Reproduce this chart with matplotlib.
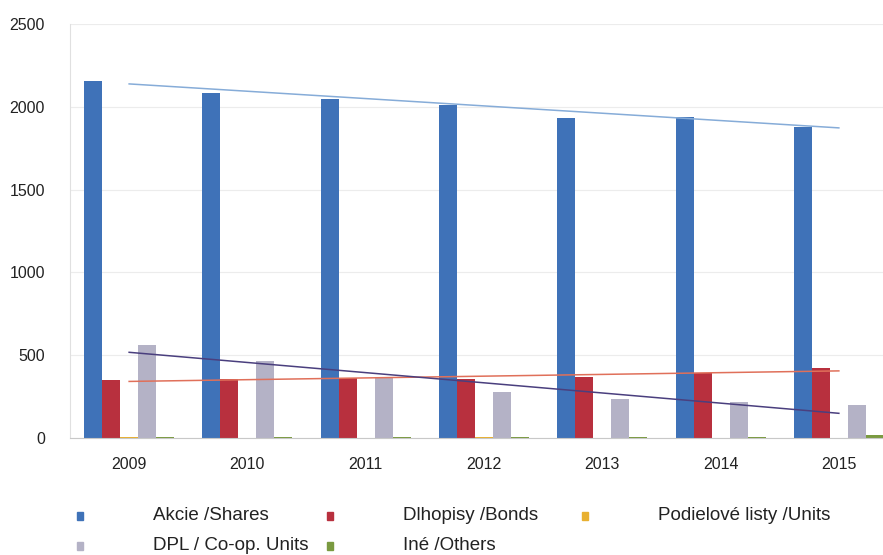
import numpy as np
import matplotlib
matplotlib.use("Agg")
import matplotlib.pyplot as plt
from matplotlib.patches import Rectangle

plt.rcParams["font.family"] = ["Liberation Sans", "DejaVu Sans"]

# ── DATA ─────────────────────────────────────────────────────────────────────
years = ["2009", "2010", "2011", "2012", "2013", "2014", "2015"]
shares = [2155, 2082, 2046, 2010, 1931, 1937, 1877]
bonds = [351, 357, 363, 357, 369, 393, 424]
units = [4, 3, 3, 4, 3, 3, 3]
coop_units = [563, 466, 370, 280, 236, 218, 200]
others = [6, 5, 5, 6, 7, 8, 18]

labels = ["Akcie /Shares", "Dlhopisy /Bonds", "Podielové listy /Units",
          "DPL / Co-op. Units", "Iné /Others"]
colors = ["#3f72b8", "#b8303e", "#e8b030", "#b4b2c6", "#7a9a40"]
trend_colors = {0: "#86acd8", 1: "#e0705a", 3: "#4a3f7e"}

series = [shares, bonds, units, coop_units, others]

fig = plt.figure(figsize=(8.83, 5.55), dpi=100)
W, H = 883, 555
ax = fig.add_axes([70 / W, (H - 438) / H, 828 / W, (438 - 24) / H])

x = np.arange(len(years))
bw = 0.152
for i, (vals, c) in enumerate(zip(series, colors)):
    ax.bar(x + (i - 2) * bw, vals, bw, color=c, edgecolor="none", zorder=2)

# linear trend lines like the spreadsheet ones
for i, c in trend_colors.items():
    k, b = np.polyfit(x, series[i], 1)
    ax.plot(x, k * x + b, color=c, lw=1.1, zorder=3)

ax.set_xlim(-0.5, len(years) - 0.5)
ax.set_ylim(0, 2500)
ax.set_yticks(range(0, 2501, 500))
ax.set_xticks(x)
ax.set_xticklabels(years)
ax.tick_params(axis="y", length=0, pad=18, labelsize=11.5, labelcolor="#222222")
ax.tick_params(axis="x", length=0, pad=14, labelsize=11.5, labelcolor="#222222")
ax.grid(axis="y", color="#ececec", lw=0.8, zorder=0)
for s in ["top", "right"]:
    ax.spines[s].set_visible(False)
ax.spines["left"].set_color("#e0e0e0")
ax.spines["bottom"].set_color("#c8c8c8")

# legend laid out like the original (row by row, three columns)
leg_pos = [(80, 516), (330, 516), (585, 516), (80, 546), (330, 546)]
for (px, py), lab, c in zip(leg_pos, labels, colors):
    fig.patches.append(Rectangle(((px - 3) / W, (H - py - 4) / H), 6 / W, 8 / H,
                                 transform=fig.transFigure, color=c))
    fig.text((px + 73) / W, (H - py) / H, lab, fontsize=13.5, color="#222222",
             va="center", ha="left")

fig.savefig("out.png", dpi=100)
